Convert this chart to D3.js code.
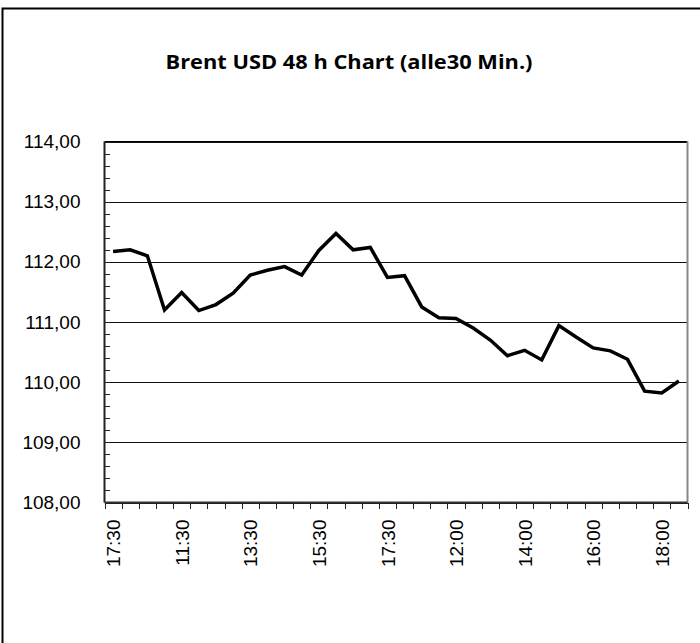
<!DOCTYPE html>
<meta charset="utf-8">
<script src="https://d3js.org/d3.v7.min.js"></script>
<style>
  body { margin: 0; background: #fff; }
  .lbl text { font: 19px "Liberation Sans", Arial, sans-serif; fill: #000; }
  .lbl path, .lbl line { display: none; }
  .grid line { stroke: #111; stroke-width: 1px; shape-rendering: crispEdges; }
  .grid path { display: none; }
  .ticks line { stroke: #222; stroke-width: 1px; shape-rendering: crispEdges; }
  .ticks path { display: none; }
  .ticks text { display: none; }
</style>
<body>
<div id="chart"></div>
<script>
  // values, one per half hour
  var times = ["17:30","18:00","18:30","11:00","11:30","12:00","12:30","13:00","13:30","14:00",
               "14:30","15:00","15:30","16:00","16:30","17:00","17:30","18:00","18:30","11:30",
               "12:00","12:30","13:00","13:30","14:00","14:30","15:00","15:30","16:00","16:30",
               "17:00","17:30","18:00","18:30"];
  var prices = [112.17,112.20,112.10,111.20,111.49,111.19,111.29,111.48,111.78,111.86,
                111.92,111.78,112.19,112.47,112.20,112.24,111.74,111.77,111.25,111.07,
                111.06,110.90,110.70,110.44,110.53,110.37,110.94,110.75,110.57,110.52,
                110.38,109.85,109.82,110.02];
  var yTicks = [108,109,110,111,112,113,114];
  var title = "Brent USD 48 h Chart (alle30 Min.)";

  var W = 700, H = 643;
  var plot = {left: 104.5, right: 687.5, top: 141.5, bottom: 502.5};

  var svg = d3.select("#chart").append("svg")
      .attr("width", W).attr("height", H);

  // outer frame
  svg.append("rect")
      .attr("x", 2.5).attr("y", 8.5)
      .attr("width", 720).attr("height", 700)
      .attr("fill", "none").attr("stroke", "#000").attr("stroke-width", 2);

  svg.append("text")
      .attr("x", 349).attr("y", 69)
      .attr("text-anchor", "middle")
      .attr("textLength", 367).attr("lengthAdjust", "spacingAndGlyphs")
      .style("font", "bold 20px 'Open Sans', sans-serif")
      .text(title);

  var x = d3.scaleLinear().domain([0, times.length]).range([plot.left, plot.right]);
  var y = d3.scaleLinear().domain([108, 114]).range([plot.bottom, plot.top]);

  // gridlines
  svg.append("g").attr("class", "grid")
      .attr("transform", "translate(" + plot.left + ",0)")
      .call(d3.axisLeft(y).tickValues(yTicks).tickSize(-(plot.right - plot.left)).tickFormat(""));

  // plot frame top + right
  svg.append("line").attr("x1", plot.left).attr("x2", plot.right).attr("y1", plot.top).attr("y2", plot.top)
      .attr("stroke", "#000").attr("stroke-width", 1.2);
  svg.append("line").attr("x1", plot.right).attr("x2", plot.right).attr("y1", plot.top).attr("y2", plot.bottom)
      .attr("stroke", "#888").attr("stroke-width", 2);

  // minor ticks on y, inside
  svg.append("g").attr("class", "ticks")
      .attr("transform", "translate(" + plot.left + ",0)")
      .call(d3.axisRight(y).tickValues(d3.range(0, 31).map(function(i){ return 108 + i * 0.2; }))
        .tickSize(5).tickFormat(""));

  // x ticks between categories, outside
  svg.append("g").attr("class", "ticks")
      .attr("transform", "translate(0," + plot.bottom + ")")
      .call(d3.axisBottom(x).tickValues(d3.range(0, times.length + 1)).tickSize(6).tickFormat(""));

  // axis lines
  svg.append("line").attr("x1", plot.left).attr("x2", plot.left).attr("y1", plot.top).attr("y2", plot.bottom)
      .attr("stroke", "#222").attr("stroke-width", 2);
  svg.append("line").attr("x1", plot.left).attr("x2", plot.right).attr("y1", plot.bottom).attr("y2", plot.bottom)
      .attr("stroke", "#333").attr("stroke-width", 2);

  // y labels
  svg.append("g").attr("class", "lbl")
      .attr("transform", "translate(" + plot.left + ",0)")
      .call(d3.axisLeft(y).tickValues(yTicks).tickSize(0).tickPadding(24)
        .tickFormat(function(d){ return d.toFixed(2).replace(".", ","); }));

  // x labels, every 4th category, rotated
  var shown = d3.range(0, times.length, 4);
  svg.append("g").attr("class", "lbl")
      .attr("transform", "translate(0," + plot.bottom + ")")
      .call(d3.axisBottom(x).tickValues(shown.map(function(i){ return i + 0.5; }))
        .tickSize(0).tickFormat(function(d){ return times[Math.floor(d)]; }))
    .selectAll("text")
      .attr("transform", "rotate(-90)")
      .attr("text-anchor", "end")
      .attr("x", -17).attr("y", 0)
      .attr("dy", "0.35em");

  var line = d3.line()
      .x(function(d, i){ return x(i + 0.5); })
      .y(function(d){ return y(d); });

  svg.append("path")
      .datum(prices)
      .attr("d", line)
      .attr("fill", "none")
      .attr("stroke", "#000")
      .attr("stroke-width", 3.5)
      .attr("stroke-linejoin", "miter");
</script>
</body>
</html>
